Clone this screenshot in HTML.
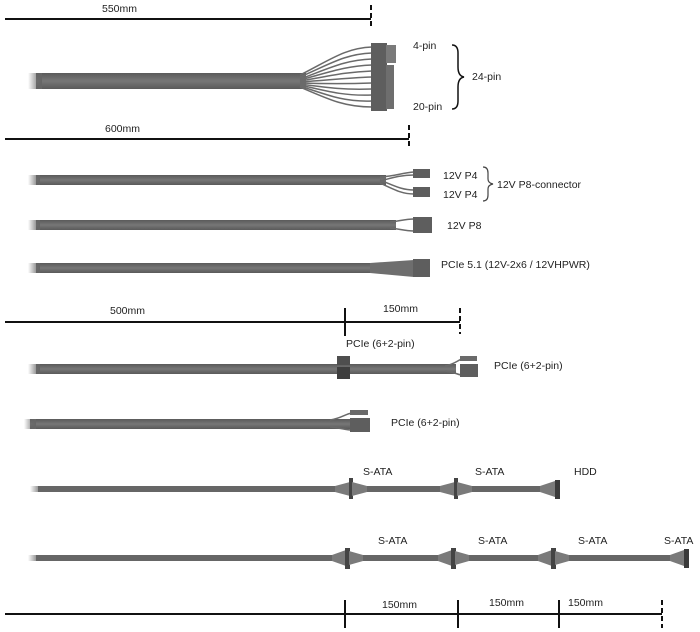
<!DOCTYPE html>
<html><head><meta charset="utf-8"><style>
html,body{margin:0;padding:0;background:#fff;}
svg{display:block;}
text{font-family:"Liberation Sans",sans-serif;font-size:10.5px;fill:#222;}
</style></head><body>
<svg width="700" height="632" viewBox="0 0 700 632" xmlns="http://www.w3.org/2000/svg">
<defs>
<linearGradient id="cab" x1="0" y1="0" x2="0" y2="1"><stop offset="0" stop-color="#5a5a5a"/><stop offset="0.5" stop-color="#777"/><stop offset="1" stop-color="#5a5a5a"/></linearGradient>
<linearGradient id="fade" x1="0" y1="0" x2="1" y2="0"><stop offset="0" stop-color="#666" stop-opacity="0"/><stop offset="1" stop-color="#666" stop-opacity="1"/></linearGradient>
</defs>
<g stroke="#111" stroke-width="2" fill="none">
<line x1="5" y1="19" x2="371" y2="19"/>
<line x1="371" y1="5" x2="371" y2="29" stroke-dasharray="5,3"/>
<line x1="5" y1="139" x2="409" y2="139"/>
<line x1="409" y1="125" x2="409" y2="149" stroke-dasharray="5,3"/>
<line x1="5" y1="322" x2="460" y2="322"/>
<line x1="345" y1="308" x2="345" y2="336"/>
<line x1="460" y1="308" x2="460" y2="334" stroke-dasharray="5,3"/>
<line x1="5" y1="614" x2="662" y2="614"/>
<line x1="345" y1="600" x2="345" y2="628"/>
<line x1="458" y1="600" x2="458" y2="628"/>
<line x1="559" y1="600" x2="559" y2="628"/>
<line x1="662" y1="600" x2="662" y2="628" stroke-dasharray="5,3"/>
</g>
<g>
<text x="102" y="12">550mm</text>
<text x="105" y="132">600mm</text>
<text x="110" y="314">500mm</text>
<text x="383" y="312">150mm</text>
<text x="382" y="608">150mm</text>
<text x="489" y="606">150mm</text>
<text x="568" y="606">150mm</text>
</g>
<rect x="36" y="73" width="270" height="16" fill="url(#cab)"/>
<rect x="28" y="73" width="14" height="16" fill="url(#fade)"/>
<g stroke="#6a6a6a" stroke-width="1.5" fill="none">
<path d="M300 75 C330 60 345 48 372 47"/><path d="M300 77 C330 64 345 54 372 53"/>
<path d="M300 79 C330 68 345 60 372 59"/><path d="M300 80 C330 72 345 66 372 65"/>
<path d="M300 81 C330 76 345 72 372 71"/><path d="M300 82 C330 80 345 78 372 77"/>
<path d="M300 83 C330 84 345 84 372 83"/><path d="M300 84 C330 88 345 90 372 89"/>
<path d="M300 85 C330 92 345 96 372 95"/><path d="M300 86 C330 96 345 102 372 101"/>
<path d="M300 87 C330 100 345 107 372 107"/>
</g>
<rect x="371" y="43" width="16" height="68" fill="#5e5e5e"/>
<rect x="386" y="45" width="10" height="18" fill="#7a7a7a"/>
<rect x="386" y="65" width="8" height="44" fill="#6e6e6e"/>
<text x="413" y="49">4-pin</text>
<text x="413" y="110">20-pin</text>
<path d="M452 45 q6 0 6 8 v14 q0 9 6 10 q-6 1 -6 10 v14 q0 8 -6 8" stroke="#111" stroke-width="1.5" fill="none"/>
<text x="472" y="80">24-pin</text>
<rect x="36" y="175" width="350" height="10" fill="url(#cab)"/>
<rect x="28" y="175" width="12" height="10" fill="url(#fade)"/>
<g stroke="#6a6a6a" stroke-width="1.5" fill="none">
<path d="M380 177 C395 176 402 173 414 172"/><path d="M380 181 C395 177 402 175 414 175"/>
<path d="M380 180 C395 186 402 190 414 190"/><path d="M380 183 C395 190 402 194 414 194"/>
</g>
<rect x="413" y="169" width="17" height="9" fill="#5e5e5e"/>
<rect x="413" y="187" width="17" height="10" fill="#5e5e5e"/>
<text x="443" y="179">12V P4</text>
<text x="443" y="198">12V P4</text>
<path d="M483 167 q5 0 5 6 v6 q0 4 5 5 q-5 1 -5 5 v6 q0 6 -5 6" stroke="#444" stroke-width="1.2" fill="none"/>
<text x="497" y="188">12V P8-connector</text>
<rect x="36" y="220" width="360" height="10" fill="url(#cab)"/>
<rect x="28" y="220" width="12" height="10" fill="url(#fade)"/>
<g stroke="#6a6a6a" stroke-width="1.5" fill="none"><path d="M390 222 C400 221 405 219 414 219"/><path d="M390 228 C400 229 405 231 414 231"/></g>
<rect x="413" y="217" width="19" height="16" fill="#5e5e5e"/>
<text x="447" y="229">12V P8</text>
<rect x="36" y="263" width="340" height="10" fill="url(#cab)"/>
<rect x="28" y="263" width="12" height="10" fill="url(#fade)"/>
<path d="M370 263 L414 260 L414 277 L370 273 Z" fill="#6e6e6e"/>
<rect x="413" y="259" width="17" height="18" fill="#5e5e5e"/>
<text x="441" y="268">PCIe 5.1 (12V-2x6 / 12VHPWR)</text>
<text x="346" y="347">PCIe (6+2-pin)</text>
<rect x="36" y="364" width="420" height="10" fill="url(#cab)"/>
<rect x="28" y="364" width="12" height="10" fill="url(#fade)"/>
<rect x="337" y="356" width="13" height="9" fill="#4e4e4e"/>
<rect x="337" y="367" width="13" height="12" fill="#3e3e3e"/>
<g stroke="#6a6a6a" stroke-width="1.5" fill="none"><path d="M445 366 C455 364 458 360 462 359"/><path d="M445 371 C455 372 458 375 462 375"/></g>
<rect x="460" y="356" width="17" height="5" fill="#6a6a6a"/>
<rect x="460" y="364" width="18" height="13" fill="#5e5e5e"/>
<text x="494" y="369">PCIe (6+2-pin)</text>
<rect x="30" y="419" width="320" height="10" fill="url(#cab)"/>
<rect x="24" y="419" width="12" height="10" fill="url(#fade)"/>
<g stroke="#6a6a6a" stroke-width="1.5" fill="none"><path d="M330 420 C342 418 345 414 352 413"/><path d="M330 427 C342 428 345 430 352 430"/></g>
<rect x="350" y="410" width="18" height="5" fill="#6a6a6a"/>
<rect x="350" y="418" width="20" height="14" fill="#5e5e5e"/>
<text x="391" y="426">PCIe (6+2-pin)</text>
<!-- SATA 1 -->
<rect x="38" y="486" width="517" height="6" fill="#666"/>
<rect x="30" y="486" width="12" height="6" fill="url(#fade)"/>
<g fill="#7a7a7a">
<path d="M335 486 L350 482 L350 496 L335 492 Z"/><rect x="349" y="478" width="4" height="21" fill="#444"/><path d="M352 482 L367 486 L367 492 L352 496 Z"/>
<path d="M440 486 L455 482 L455 496 L440 492 Z"/><rect x="454" y="478" width="4" height="21" fill="#444"/><path d="M457 482 L472 486 L472 492 L457 496 Z"/>
<path d="M540 486 L555 481 L555 497 L540 492 Z"/><rect x="555" y="480" width="5" height="19" fill="#3a3a3a"/>
</g>
<text x="363" y="475">S-ATA</text><text x="475" y="475">S-ATA</text><text x="574" y="475">HDD</text>
<!-- SATA 2 -->
<rect x="36" y="555" width="650" height="6" fill="#666"/>
<rect x="28" y="555" width="12" height="6" fill="url(#fade)"/>
<g fill="#7a7a7a">
<path d="M332 555 L346 550 L346 566 L332 561 Z"/><rect x="345" y="548" width="5" height="21" fill="#444"/><path d="M349 551 L363 555 L363 561 L349 565 Z"/>
<path d="M438 555 L452 550 L452 566 L438 561 Z"/><rect x="451" y="548" width="5" height="21" fill="#444"/><path d="M455 551 L469 555 L469 561 L455 565 Z"/>
<path d="M538 555 L552 550 L552 566 L538 561 Z"/><rect x="551" y="548" width="5" height="21" fill="#444"/><path d="M555 551 L569 555 L569 561 L555 565 Z"/>
<path d="M670 555 L684 550 L684 566 L670 561 Z"/><rect x="684" y="549" width="5" height="19" fill="#3a3a3a"/>
</g>
<text x="378" y="544">S-ATA</text><text x="478" y="544">S-ATA</text><text x="578" y="544">S-ATA</text><text x="664" y="544">S-ATA</text>
</svg>
</body></html>
